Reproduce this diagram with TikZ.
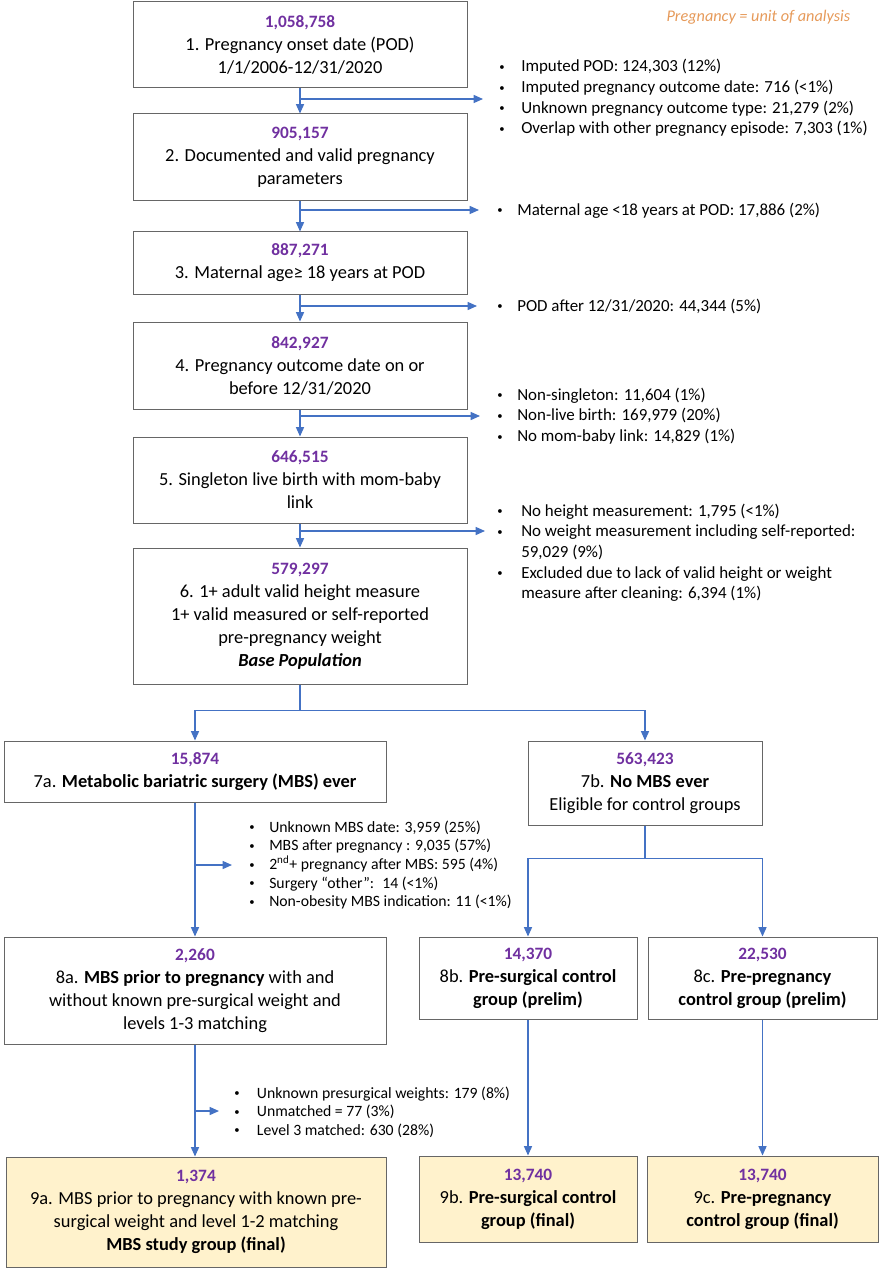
\documentclass[tikz,border=0pt]{standalone}
\usepackage{fontspec}
\setmainfont{Carlito}
\usepackage{xcolor}
\usetikzlibrary{arrows.meta, calc, positioning}
\definecolor{numpurple}{HTML}{7030A0}
\definecolor{arrowblue}{HTML}{4472C4}
\definecolor{finalfill}{HTML}{FFF2CC}
\definecolor{noteorange}{HTML}{E69A5A}
\newcommand{\cnt}[1]{{\fontsize{13}{17.3}\selectfont\color{numpurple}\bfseries #1}\\}
\newcommand{\bul}{\raisebox{1pt}{\fontsize{8}{8}\selectfont\textbullet}}

\begin{document}
\begin{tikzpicture}[x=0.75pt, y=0.75pt,
    box/.style={draw=black!60, line width=0.75pt, align=center, inner sep=0pt,
        font=\fontsize{13.8}{17.3}\selectfont},
    boxsize/.style 2 args={minimum width=#1*0.75pt, minimum height=#2*0.75pt},
    final/.style={box, fill=finalfill},
    arr/.style={draw=arrowblue, line width=1pt, -{Triangle[length=7pt,width=6pt]}},
    note/.style={anchor=base west, inner sep=0pt, font=\fontsize{12.7}{15.5}\selectfont},
    smallnote/.style={note, font=\fontsize{11.8}{13.9}\selectfont}]
    \useasboundingbox (0, 0) rectangle (881, -1280);

    \node[anchor=east, text=noteorange, font=\fontsize{12.2}{14}\selectfont\itshape] (unit) at (855, -17) {Pregnancy = unit of analysis};

    \node[box, boxsize={334}{86}] (b1) at (300, -45) {\cnt{1,058,758}1. Pregnancy onset date (POD)\\1/1/2006-12/31/2020};
    \node[box, boxsize={334}{87}] (b2) at (300, -157.5) {\cnt{905,157}2. Documented and valid pregnancy\\parameters};
    \node[box, boxsize={334}{62}] (b3) at (300, -263) {\cnt{887,271}3. Maternal age≥ 18 years at POD};
    \node[box, boxsize={334}{87}] (b4) at (300, -365.5) {\cnt{842,927}4. Pregnancy outcome date on or\\before 12/31/2020};
    \node[box, boxsize={334}{86}] (b5) at (300, -480) {\cnt{646,515}5. Singleton live birth with mom-baby\\link};
    \node[box, boxsize={334}{136}] (b6) at (300, -616) {\cnt{579,297}6. 1+ adult valid height measure\\1+ valid measured or self-reported\\pre-pregnancy weight\\\textbf{\textit{Base Population}}};

    \node[box, boxsize={382}{61}] (b7a) at (195, -771.5) {\cnt{15,874}7a. \textbf{Metabolic bariatric surgery (MBS) ever}};
    \node[box, boxsize={234}{84}] (b7b) at (645, -783) {\cnt{563,423}7b. \textbf{No MBS ever}\\Eligible for control groups};

    \node[box, boxsize={382}{107}] (b8a) at (195, -990.5) {\cnt{2,260}8a. \textbf{MBS prior to pregnancy} with and\\without known pre-surgical weight and\\levels 1-3 matching};
    \node[box, boxsize={218}{82}] (b8b) at (528, -978) {\cnt{14,370}8b. \textbf{Pre-surgical control}\\\textbf{group (prelim)}};
    \node[box, boxsize={229}{82}] (b8c) at (762.5, -978) {\cnt{22,530}8c. \textbf{Pre-pregnancy}\\\textbf{control group (prelim)}};

    \node[final, boxsize={380}{110}] (b9a) at (196, -1212) {\cnt{1,374}9a. MBS prior to pregnancy with known pre-\\surgical weight and level 1-2 matching\\\textbf{MBS study group (final)}};
    \node[final, boxsize={218}{86}] (b9b) at (528, -1199) {\cnt{13,740}9b. \textbf{Pre-surgical control}\\\textbf{group (final)}};
    \node[final, boxsize={231}{86}] (b9c) at (762.5, -1199) {\cnt{13,740}9c. \textbf{Pre-pregnancy}\\\textbf{control group (final)}};

    \node[note] (n1) at (499, -72) {\begin{tabular}[t]{@{}p{16.5pt}@{}l@{}}
        \bul & Imputed POD: 124,303 (12\%)\\
        \bul & Imputed pregnancy outcome date: 716 (<1\%)\\
        \bul & Unknown pregnancy outcome type: 21,279 (2\%)\\
        \bul & Overlap with other pregnancy episode: 7,303 (1\%)
    \end{tabular}};
    \node[note] (n2) at (497, -215) {\begin{tabular}[t]{@{}p{15pt}@{}l@{}}
        \bul & Maternal age <18 years at POD: 17,886 (2\%)
    \end{tabular}};
    \node[note] (n3) at (497, -311) {\begin{tabular}[t]{@{}p{15pt}@{}l@{}}
        \bul & POD after 12/31/2020: 44,344 (5\%)
    \end{tabular}};
    \node[note] (n4) at (497, -400) {\begin{tabular}[t]{@{}p{15pt}@{}l@{}}
        \bul & Non-singleton: 11,604 (1\%)\\
        \bul & Non-live birth: 169,979 (20\%)\\
        \bul & No mom-baby link: 14,829 (1\%)
    \end{tabular}};
    \node[note] (n5) at (497, -516) {\begin{tabular}[t]{@{}p{18pt}@{}l@{}}
        \bul & No height measurement: 1,795 (<1\%)\\
        \bul & No weight measurement including self-reported:\\
             & 59,029 (9\%)\\
        \bul & Excluded due to lack of valid height or weight\\
             & measure after cleaning: 6,394 (1\%)
    \end{tabular}};
    \node[smallnote] (n7) at (249, -832) {\begin{tabular}[t]{@{}p{15pt}@{}l@{}}
        \bul & Unknown MBS date: 3,959 (25\%)\\
        \bul & MBS after pregnancy : 9,035 (57\%)\\
        \bul & 2\textsuperscript{nd}+ pregnancy after MBS: 595 (4\%)\\
        \bul & Surgery “other”:~ 14 (<1\%)\\
        \bul & Non-obesity MBS indication: 11 (<1\%)
    \end{tabular}};
    \node[smallnote] (n8) at (234, -1098) {\begin{tabular}[t]{@{}p{17pt}@{}l@{}}
        \bul & Unknown presurgical weights: 179 (8\%)\\
        \bul & Unmatched = 77 (3\%)\\
        \bul & Level 3 matched: 630 (28\%)
    \end{tabular}};

    \coordinate (e1) at (483, -99);
    \coordinate (e2) at (479, -210);
    \coordinate (e3) at (477, -306);
    \coordinate (e4) at (480, -416);
    \coordinate (e5) at (485, -531);
    \coordinate (e7) at (232, -865);
    \coordinate (e8) at (219, -1111);

    \draw[arr] (b1) -- (b2);
    \draw[arr] (b2) -- (b3);
    \draw[arr] (b3) -- (b4);
    \draw[arr] (b4) -- (b5);
    \draw[arr] (b5) -- (b6);
    \draw[arr] (b1.south |- e1) -- (e1);
    \draw[arr] (b2.south |- e2) -- (e2);
    \draw[arr] (b3.south |- e3) -- (e3);
    \draw[arr] (b4.south |- e4) -- (e4);
    \draw[arr] (b5.south |- e5) -- (e5);

    \draw[arr] (b6.south) -- ++(0, -26) -| (b7a.north);
    \draw[arr] (b6.south) -- ++(0, -26) -| (b7b.north);
    \draw[arr] (b7a) -- (b8a);
    \draw[arr] (b7a.south |- e7) -- (e7);
    \draw[arr] (b7b.south) -- ++(0, -33) -| (b8b.north);
    \draw[arr] (b7b.south) -- ++(0, -33) -| (b8c.north);
    \draw[arr] (b8a.south) -- (b8a.south |- b9a.north);
    \draw[arr] (b8a.south |- e8) -- (e8);
    \draw[arr] (b8b) -- (b9b);
    \draw[arr] (b8c) -- (b9c);
\end{tikzpicture}
\end{document}
